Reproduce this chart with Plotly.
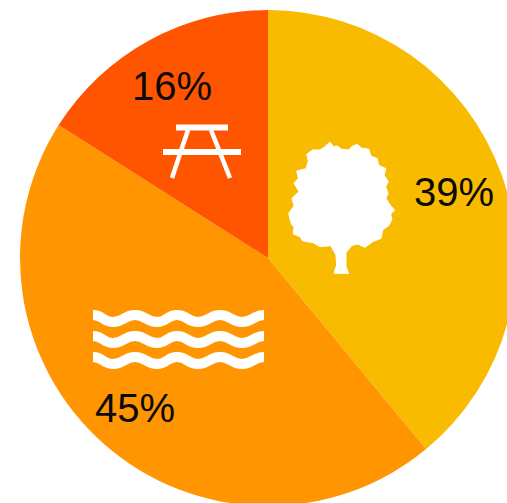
import plotly.graph_objects as go

categories = ["Forest", "Water", "Recreation"]
values = [39, 45, 16]
colors = ["#F9BB00", "#FF9500", "#FF5500"]
label_text = ["39%", "45%", "16%"]
label_px = [(454, 192), (135, 408), (172, 86)]

W, H = 540, 540
CX, CY, R = 268, 258, 248

def px(x, y):
    return x / W, 1 - y / H

def path_from(cmds):
    out = []
    for c, pts in cmds:
        s = " ".join("%.5f,%.5f" % px(*p) for p in pts)
        out.append(c + " " + s)
    return " ".join(out)

tree_zoom = [(180,36),(190,50),(202,48),(215,58),(235,60),(248,48),(262,43),(274,54),(297,58),(302,78),(322,86),(326,106),(348,116),(342,135),(355,155),(347,170),(354,190),(348,205),(360,225),(374,240),(362,252),(366,268),(356,287),(338,300),(333,325),(308,335),(285,352),(262,342),(245,347),(228,368),(228,410),(236,430),(192,430),(200,405),(198,375),(182,347),(150,350),(130,338),(98,333),(90,320),(70,312),(72,292),(64,282),(56,250),(72,228),(66,205),(87,185),(72,160),(85,145),(80,123),(108,116),(115,93),(110,73),(128,60),(150,60),(165,50)]
tree = [(270 + a / 3, 130 + b / 3) for a, b in tree_zoom]
tree_path = path_from([("M", [tree[0]])] + [("L", [p]) for p in tree[1:]]) + " Z"

wave_x = [93, 113, 135, 157, 177, 198, 220, 242, 264]
WAVE_AMP = 7
def wave(y0):
    cmds = [("M", [(wave_x[0], y0)])]
    for i in range(1, len(wave_x)):
        xa, xb = wave_x[i - 1], wave_x[i]
        ya = y0 + (WAVE_AMP if (i - 1) % 2 else 0)
        yb = y0 + (WAVE_AMP if i % 2 else 0)
        xm = (xa + xb) / 2
        cmds.append(("C", [(xm, ya), (xm, yb), (xb, yb)]))
    return path_from(cmds)

shapes = [dict(type="path", xref="paper", yref="paper", path=tree_path,
               fillcolor="white", line=dict(color="white", width=1), layer="above")]
for y0 in (315, 336, 357):
    shapes.append(dict(type="path", xref="paper", yref="paper", path=wave(y0),
                       line=dict(color="white", width=10), layer="above"))
table = [((176, 127.5), (228, 127.5), 6), ((163, 152), (241, 152), 6),
         ((188, 130), (172, 178), 4.5), ((211, 130), (230, 178), 4.5)]
for a, b, w in table:
    shapes.append(dict(type="path", xref="paper", yref="paper",
                       path=path_from([("M", [a]), ("L", [b])]),
                       line=dict(color="white", width=w), layer="above"))

annotations = []
for t, (x, y) in zip(label_text, label_px):
    fx, fy = px(x, y)
    annotations.append(dict(text=t, x=fx, y=fy, xref="paper", yref="paper", showarrow=False,
                            xanchor="center", yanchor="middle",
                            font=dict(family="Liberation Sans", size=40, color="#0a0a0a")))

fig = go.Figure(go.Pie(
    labels=categories, values=values, sort=False, direction="clockwise", rotation=0,
    marker=dict(colors=colors, line=dict(width=0)), textinfo="none", showlegend=False,
    hoverinfo="skip",
    domain=dict(x=[(CX - R) / W, (CX + R) / W], y=[1 - (CY + R) / H, 1 - (CY - R) / H]),
))
fig.update_layout(width=W, height=H, margin=dict(l=0, r=0, t=0, b=0),
                  paper_bgcolor="white", shapes=shapes, annotations=annotations)
fig.write_html("out.html", config=dict(displayModeBar=False),
               post_script="document.body.style.margin='0';document.body.style.overflow='hidden';document.documentElement.style.overflow='hidden';")
